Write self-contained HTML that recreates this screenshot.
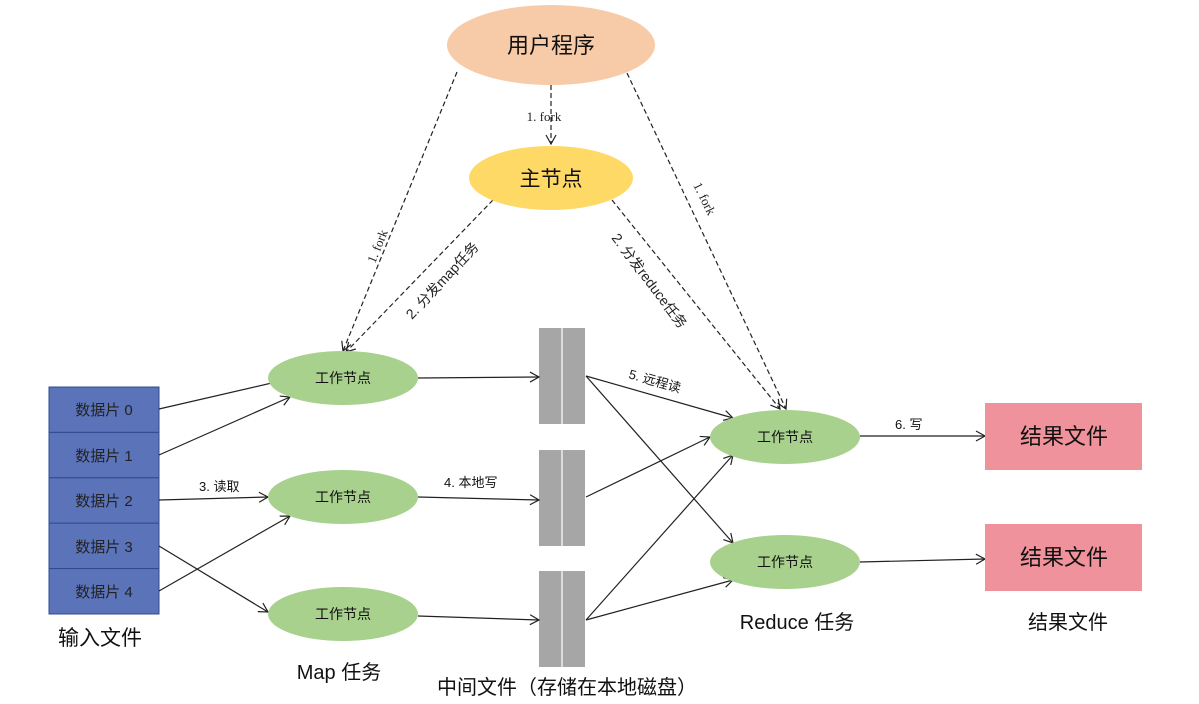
<!DOCTYPE html>
<html><head><meta charset="utf-8"><style>
body{margin:0;background:#fff}
svg{display:block;font-family:"Liberation Sans","Noto Sans CJK SC",sans-serif}
</style></head><body>
<svg width="1199" height="704" viewBox="0 0 1199 704" xmlns="http://www.w3.org/2000/svg">
<defs>
<marker id="a" markerWidth="12" markerHeight="12" refX="10" refY="6" orient="auto" markerUnits="userSpaceOnUse">
<path d="M1,1 L10,6 L1,11" fill="none" stroke="#222" stroke-width="1.2"/></marker>
</defs>
<g stroke="#222" stroke-width="1.2" fill="none" stroke-dasharray="5,3">
<line x1="551" y1="85" x2="551" y2="144" marker-end="url(#a)"/>
<line x1="457" y1="72" x2="343" y2="351" marker-end="url(#a)"/>
<line x1="493" y1="200" x2="346" y2="352" marker-end="url(#a)"/>
<line x1="612" y1="200" x2="780" y2="409" marker-end="url(#a)"/>
<line x1="627" y1="73" x2="786" y2="409" marker-end="url(#a)"/>
</g>
<ellipse cx="551" cy="45" rx="104" ry="40" fill="#f8cba8"/>
<ellipse cx="551" cy="178" rx="82" ry="32" fill="#ffd966"/>
<text x="551" y="53" font-size="22" text-anchor="middle" fill="#111">用户程序</text>
<text x="551" y="186" font-size="21" text-anchor="middle" fill="#111">主节点</text>
<g font-size="13" fill="#222" font-family="Liberation Serif,Noto Sans CJK SC,serif">
<text x="544" y="121" text-anchor="middle">1. fork</text>
<text transform="translate(375,264) rotate(-68)">1. fork</text>
<text transform="translate(693,185) rotate(64)">1. fork</text>
</g>
<g font-size="14" fill="#222">
<text transform="translate(412,320) rotate(-47)">2.  分发map任务</text>
<text transform="translate(611,238) rotate(53)">2.  分发reduce任务</text>
</g>
<g fill="#5b73b8" stroke="#2f4b8f" stroke-width="1">
<rect x="49" y="387" width="110" height="45.4"/>
<rect x="49" y="432.4" width="110" height="45.4"/>
<rect x="49" y="477.8" width="110" height="45.4"/>
<rect x="49" y="523.2" width="110" height="45.4"/>
<rect x="49" y="568.6" width="110" height="45.4"/>
</g>
<g font-size="15" fill="#222" text-anchor="middle">
<text x="104" y="415">数据片 0</text>
<text x="104" y="461">数据片 1</text>
<text x="104" y="506">数据片 2</text>
<text x="104" y="552">数据片 3</text>
<text x="104" y="597">数据片 4</text>
</g>
<g fill="#a6a6a6">
<rect x="539" y="328" width="46" height="96"/>
<rect x="539" y="450" width="46" height="96"/>
<rect x="539" y="571" width="46" height="96"/>
</g>
<g stroke="#fff" stroke-width="1.2">
<line x1="562" y1="328" x2="562" y2="424"/><line x1="562" y1="450" x2="562" y2="546"/><line x1="562" y1="571" x2="562" y2="667"/>
</g>
<g stroke="#222" stroke-width="1.2" fill="none" marker-end="url(#a)">
<line x1="159" y1="409" x2="289" y2="379"/>
<line x1="159" y1="455" x2="290" y2="397"/>
<line x1="159" y1="500" x2="268" y2="497"/>
<line x1="159" y1="546" x2="268" y2="612"/>
<line x1="159" y1="591" x2="290" y2="516"/>
<line x1="418" y1="378" x2="539" y2="377"/>
<line x1="418" y1="497" x2="539" y2="500"/>
<line x1="418" y1="616" x2="539" y2="620"/>
<line x1="586" y1="376" x2="733" y2="418"/>
<line x1="586" y1="376" x2="733" y2="543"/>
<line x1="586" y1="497" x2="710" y2="437"/>
<line x1="586" y1="620" x2="733" y2="455"/>
<line x1="586" y1="620" x2="733" y2="580"/>
<line x1="860" y1="436" x2="985" y2="436"/>
<line x1="860" y1="562" x2="985" y2="559"/>
</g>
<g fill="#a9d18e">
<ellipse cx="343" cy="378" rx="75" ry="27"/>
<ellipse cx="343" cy="497" rx="75" ry="27"/>
<ellipse cx="343" cy="614" rx="75" ry="27"/>
<ellipse cx="785" cy="437" rx="75" ry="27"/>
<ellipse cx="785" cy="562" rx="75" ry="27"/>
</g>
<g font-size="14" fill="#111" text-anchor="middle">
<text x="343" y="383">工作节点</text>
<text x="343" y="502">工作节点</text>
<text x="343" y="619">工作节点</text>
<text x="785" y="442">工作节点</text>
<text x="785" y="567">工作节点</text>
</g>
<g fill="#f0929b"><rect x="985" y="403" width="157" height="67"/><rect x="985" y="524" width="157" height="67"/></g>
<g font-size="22" fill="#111" text-anchor="middle">
<text x="1064" y="444">结果文件</text><text x="1064" y="565">结果文件</text>
</g>
<g font-size="13" fill="#111">
<text x="199" y="491">3. 读取</text>
<text x="444" y="487">4. 本地写</text>
<text transform="translate(628,378) rotate(16)">5. 远程读</text>
<text x="895" y="429">6. 写</text>
</g>
<g font-size="20" fill="#111" text-anchor="middle">
<text x="100" y="645" font-size="21">输入文件</text>
<text x="339" y="679">Map 任务</text>
<text x="567" y="694">中间文件（存储在本地磁盘）</text>
<text x="797" y="629">Reduce 任务</text>
<text x="1068" y="629">结果文件</text>
</g>
</svg>
</body></html>
